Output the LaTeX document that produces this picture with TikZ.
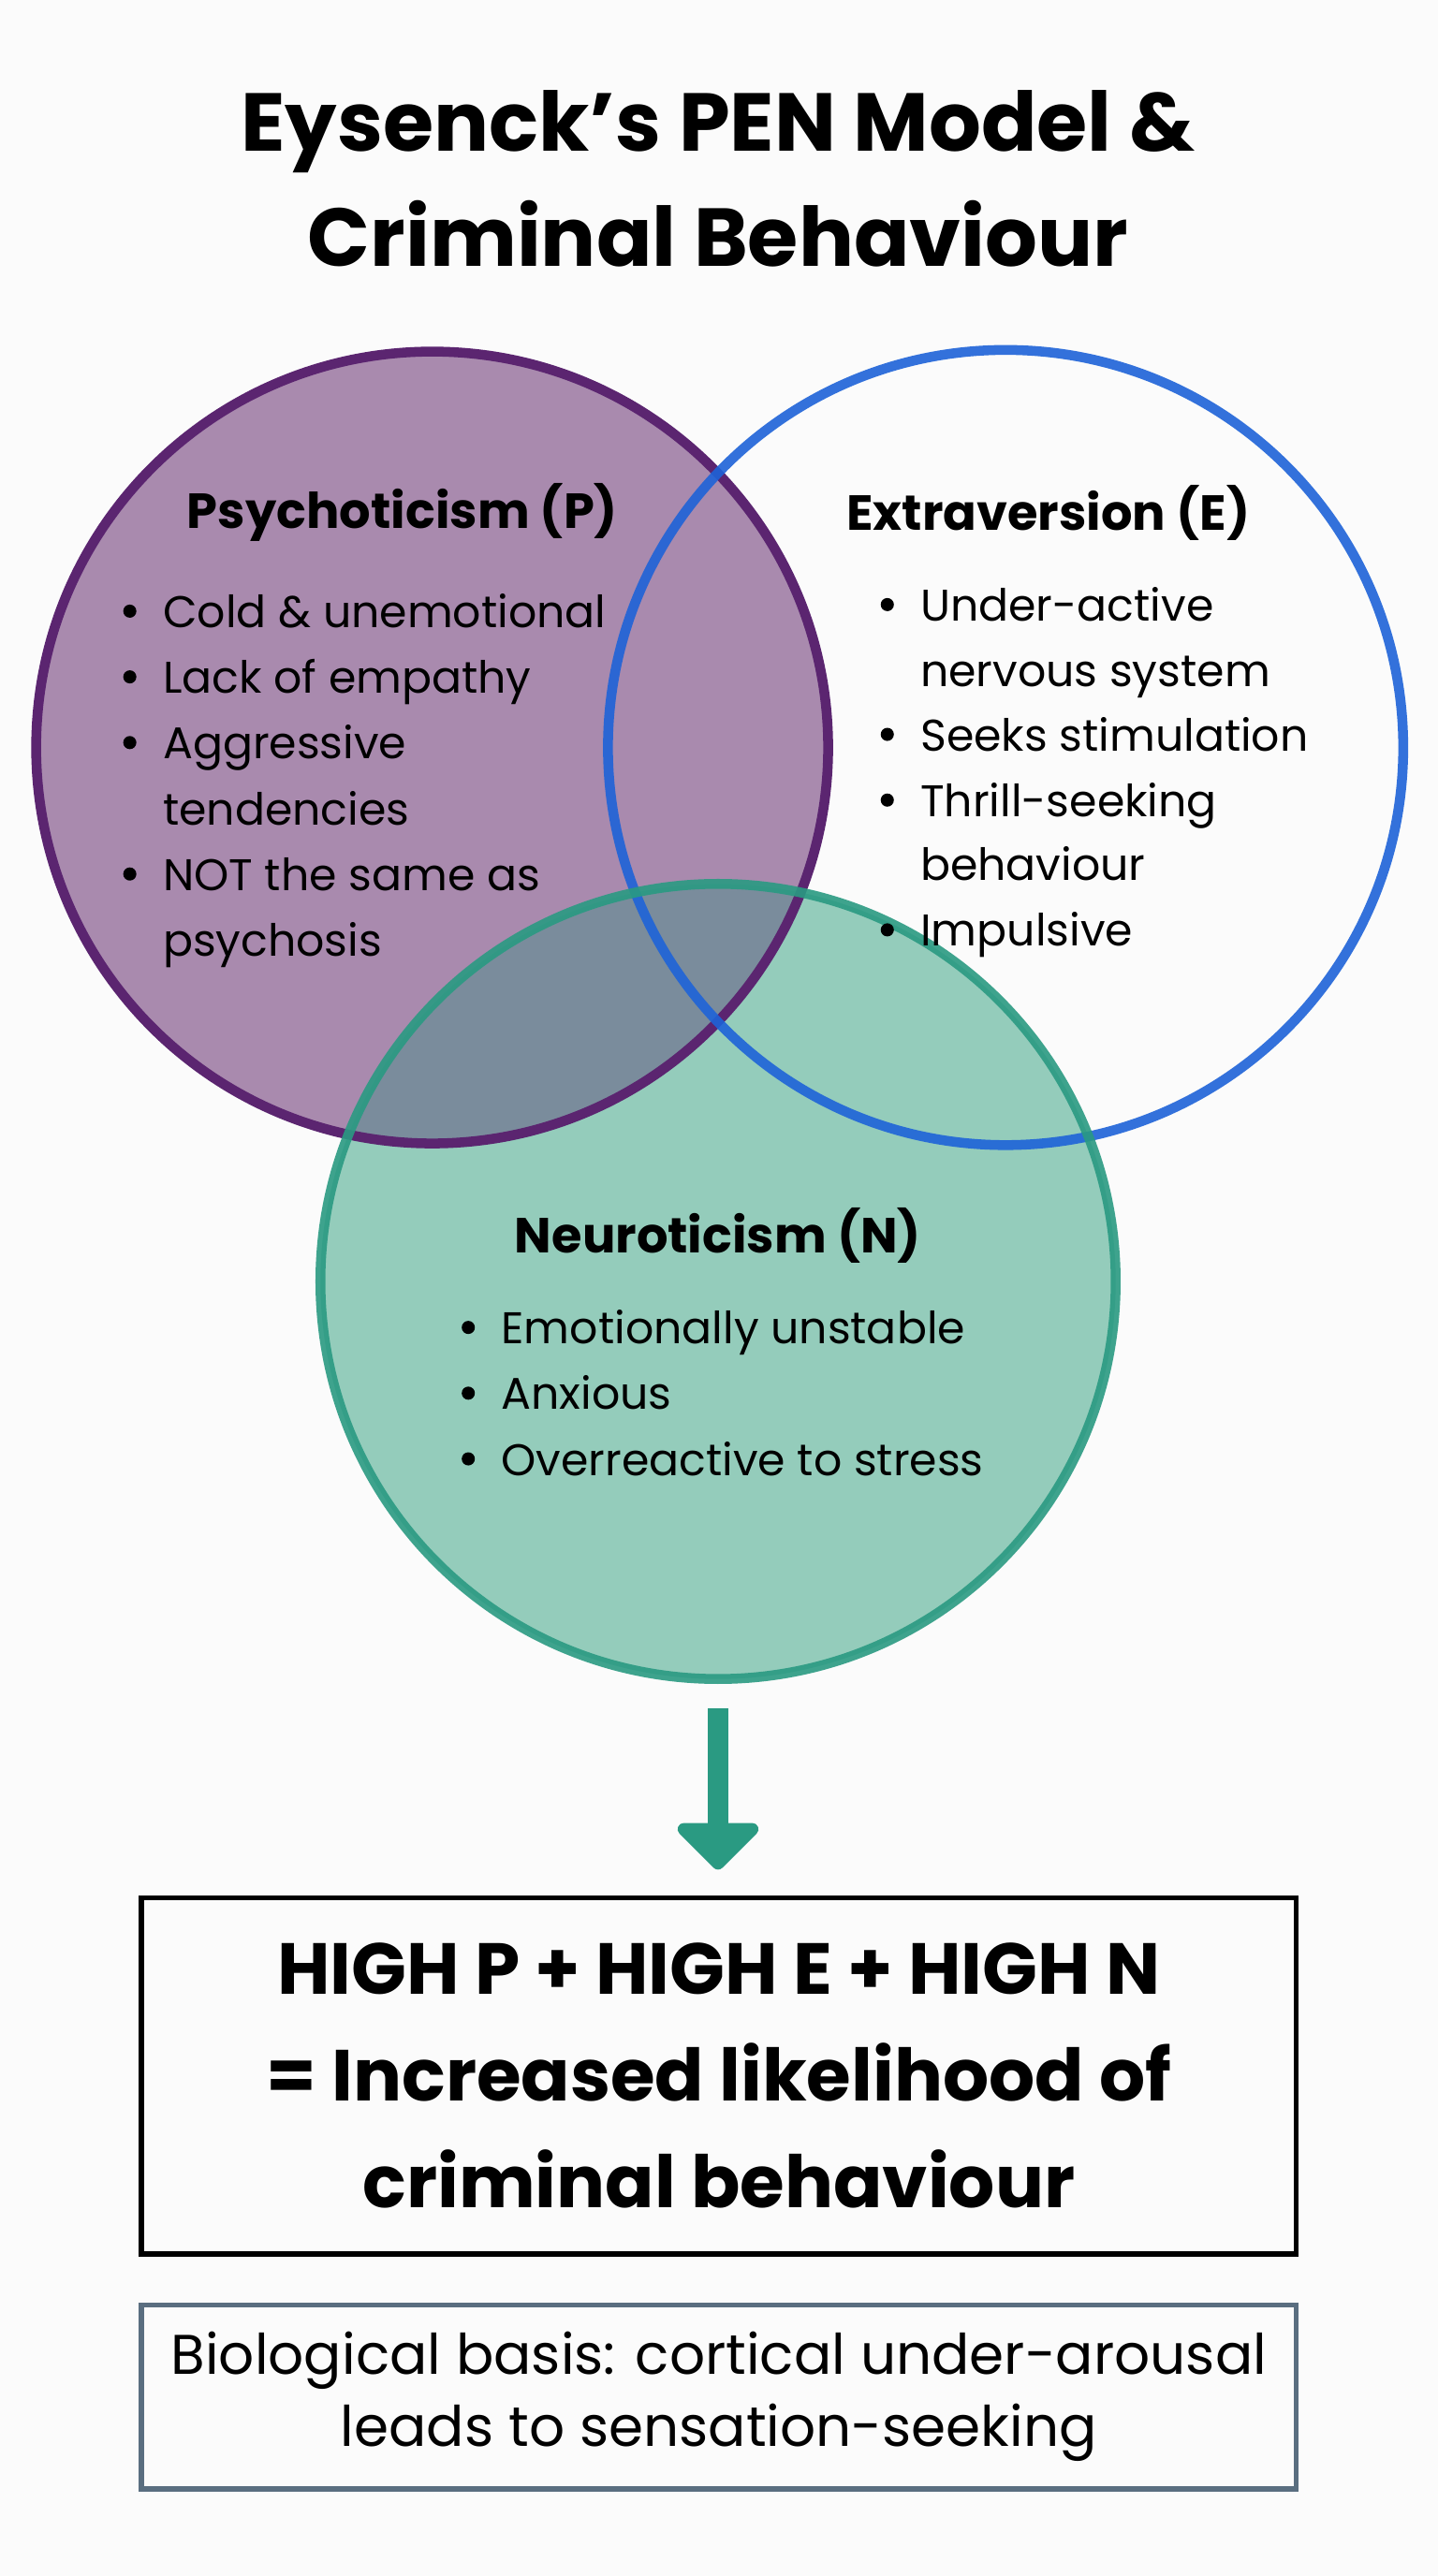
\documentclass[tikz,border=0pt]{standalone}
\usepackage{fontspec}
\setmainfont{Poppins}
\usetikzlibrary{arrows.meta}
\definecolor{pP}{HTML}{5B2570}
\definecolor{pF}{HTML}{A98AAE}
\definecolor{eB}{HTML}{1E63D8}
\definecolor{nT}{HTML}{2A9A82}
\definecolor{nF}{HTML}{8FCAB8}
\definecolor{pn}{HTML}{7A8C9C}
\definecolor{bx}{HTML}{5A6E80}
\tikzset{
  ttl/.style={font=\fontsize{30}{36}\selectfont\bfseries},
  itm/.style={anchor=base west,font=\fontsize{27}{40}\selectfont,inner sep=0pt},
  bul/.style={circle,fill=black,inner sep=0pt,minimum size=8pt}
}
\newcommand{\bl}[4]{\node[bul] (#1b) at (#2-20,#3) {}; \node[itm] (#1) at (#2,#3+10) {#4};}
\newcommand{\cl}[4]{\node[itm] (#1) at (#2,#3+10) {#4};}
\begin{document}
\begin{tikzpicture}[x=1pt,y=-1pt]
\useasboundingbox (0,0) rectangle (875,1568);
\fill[white!97!gray] (0,0) rectangle (875,1568);
\node[font=\fontsize{50}{70}\selectfont\bfseries,align=center] (title) at (437,109) {Eysenck’s PEN Model \&\\Criminal Behaviour};
% fills
\fill[pF] (263,455) circle (241);
\fill[nF,opacity=0.95] (437,780) circle (242);
\begin{scope}
\clip (263,455) circle (241);
\fill[pn] (437,780) circle (242);
\end{scope}
% strokes
\draw[pP,line width=6pt] (263,455) circle (241);
\draw[eB,line width=6pt,opacity=0.9] (612,455) circle (242);
\draw[nT,line width=6pt,opacity=0.9] (437,780) circle (242);
% P
\node[ttl] (pt) at (245,312) {Psychoticism (P)};
\bl{p1}{99}{372}{Cold \& unemotional}
\bl{p2}{99}{412}{Lack of empathy}
\bl{p3}{99}{452}{Aggressive}
\cl{p3x}{99}{492}{tendencies}
\bl{p4}{99}{532}{NOT the same as}
\cl{p4x}{99}{572}{psychosis}
% E
\node[ttl] (et) at (638,312) {Extraversion (E)};
\bl{e1}{560}{368}{Under-active}
\cl{e1x}{560}{408}{nervous system}
\bl{e2}{560}{447}{Seeks stimulation}
\bl{e3}{560}{487}{Thrill-seeking}
\cl{e3x}{560}{526}{behaviour}
\bl{e4}{560}{566}{Impulsive}
% N
\node[ttl] (nt) at (437,752) {Neuroticism (N)};
\bl{n1}{305}{808}{Emotionally unstable}
\bl{n2}{305}{848}{Anxious}
\bl{n3}{305}{888}{Overreactive to stress}
% arrow
\coordinate (a1) at (437,1040);
\node[draw=black,line width=3pt,minimum width=703pt,minimum height=217pt,font=\fontsize{44}{65}\selectfont\bfseries,align=center] (res) at (437.5,1263.5) {HIGH P + HIGH E + HIGH N\\= Increased likelihood of\\criminal behaviour};
\draw[nT,line width=13pt,-{Stealth[length=30pt,width=58pt,inset=0pt,round]}] (a1) -- (437,1138);
\node[draw=bx,line width=3pt,minimum width=703pt,minimum height=112pt,font=\fontsize{34}{44}\selectfont,align=center] (bio) at (437.5,1459) {Biological basis: cortical under-arousal\\leads to sensation-seeking};
\end{tikzpicture}
\end{document}
